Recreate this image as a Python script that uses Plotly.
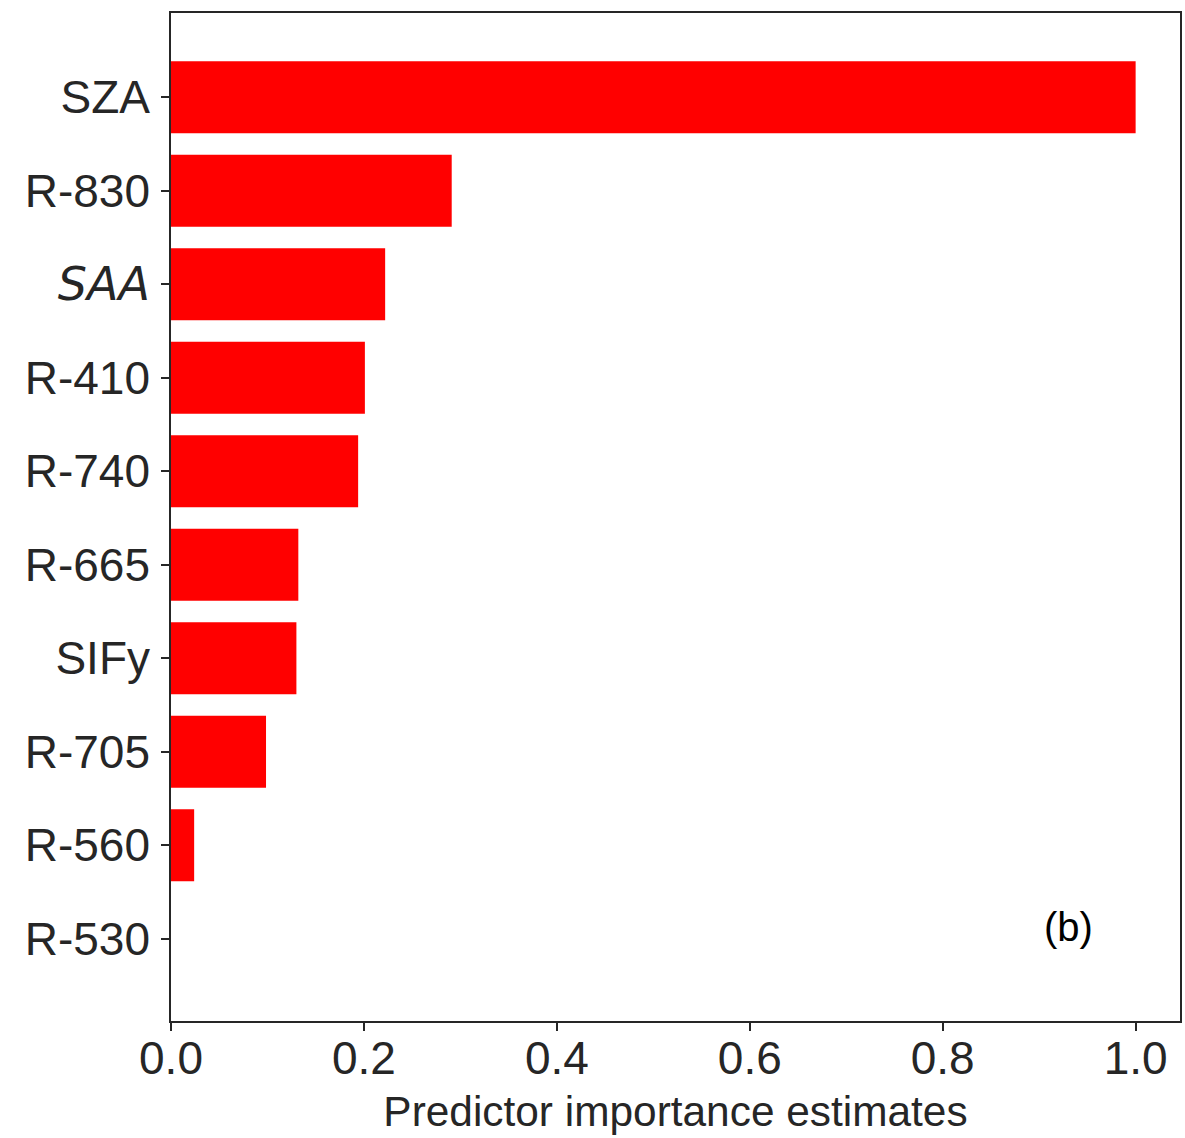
import plotly.graph_objects as go

# Data (bottom to top)
predictors = ["R-530", "R-560", "R-705", "SIFy", "R-665", "R-740", "R-410", "SAA", "R-830", "SZA"]
importance = [0.0, 0.024, 0.0985, 0.130, 0.132, 0.194, 0.201, 0.222, 0.291, 1.0]
tick_labels = ["R-530", "R-560", "R-705", "SIFy", "R-665", "R-740", "R-410",
               "<span style='font-family:DejaVu Sans'><i>SAA</i></span>", "R-830", "SZA"]
x_ticks = [0.0, 0.2, 0.4, 0.6, 0.8, 1.0]
x_tick_text = ["0.0", "0.2", "0.4", "0.6", "0.8", "1.0"]

txt = "#262626"
fig = go.Figure()
fig.add_trace(go.Bar(
    x=importance, y=predictors, orientation="h",
    marker=dict(color="#ff0000", line=dict(width=0)),
    width=0.77,
))

fig.update_layout(
    width=1185, height=1138,
    margin=dict(l=171, r=3, t=13, b=117),
    paper_bgcolor="white", plot_bgcolor="white",
    showlegend=False,
    font=dict(family="Liberation Sans, Arial, sans-serif", color=txt),
)
fig.update_xaxes(
    range=[0, 1.046], tickvals=x_ticks, ticktext=x_tick_text,
    showgrid=False, zeroline=False,
    showline=True, linecolor=txt, linewidth=1.6, mirror=True,
    ticks="outside", ticklen=8, tickwidth=1.6, tickcolor=txt,
    tickfont=dict(size=46, color=txt),
    ticklabelstandoff=-12,
    title=dict(text="Predictor importance estimates", font=dict(size=42.4, color=txt), standoff=13),
)
fig.update_yaxes(
    type="category", categoryorder="array", categoryarray=predictors,
    tickvals=predictors, ticktext=tick_labels,
    range=[-0.88, 9.9],
    showgrid=False, zeroline=False,
    showline=True, linecolor=txt, linewidth=1.6, mirror=True,
    ticks="outside", ticklen=8, tickwidth=1.6, tickcolor=txt,
    tickfont=dict(size=46, color=txt),
    ticklabelstandoff=2,
)
fig.add_annotation(
    x=0.93, y="R-530", xref="x", yref="y", yshift=12,
    text="(b)", showarrow=False,
    font=dict(size=40, color="black", family="Liberation Sans, Arial, sans-serif"),
)

fig.write_html(
    "out.html",
    config={"displayModeBar": False},
    post_script="document.body.style.margin='0';document.body.style.overflow='hidden';",
)
